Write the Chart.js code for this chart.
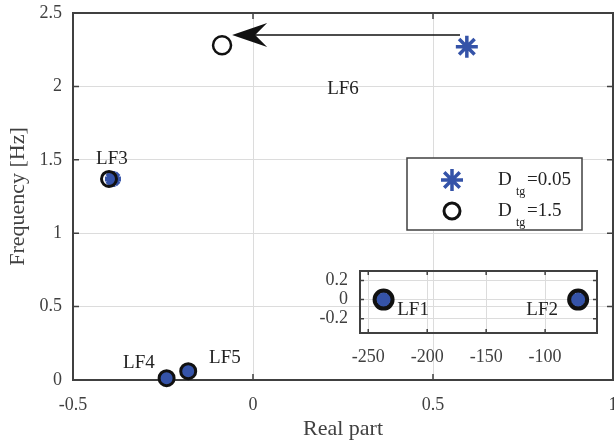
<!DOCTYPE html>
<html>
<head>
<meta charset="utf-8">
<script src="https://cdn.jsdelivr.net/npm/chart.js@4.4.1/dist/chart.umd.min.js"></script>
<style>
html, body { margin: 0; padding: 0; background: #fff; }
#wrap { position: relative; width: 614px; height: 446px; }
#wrap canvas { position: absolute; left: 0; top: 0; }
</style>
</head>
<body>
<div id="wrap">
  <canvas id="main" width="614" height="446"></canvas>
  <canvas id="inset" width="614" height="446"></canvas>
</div>
<script>
// main plot
const xTicks = [-0.5, 0, 0.5, 1];
const yTicks = [0, 0.5, 1, 1.5, 2, 2.5];
const starX = [0.594, -0.389, -0.24, -0.18];
const starY = [2.27, 1.37, 0.012, 0.06];
const circX = [-0.086, -0.40, -0.24, -0.18];
const circY = [2.28, 1.37, 0.012, 0.06];
const arrowX = [0.575, -0.058];
const arrowY = [2.35, 2.35];
const lfNames = ['LF3', 'LF4', 'LF5', 'LF6'];
const lfX = [-0.392, -0.317, -0.078, 0.25];
const lfY = [1.505, 0.116, 0.15, 1.98];

// inset (LF1, LF2)
const insetXTicks = [-250, -200, -150, -100];
const insetYTicks = [-0.2, 0, 0.2];
const insetStarX = [-237, -72];
const insetStarY = [0, 0];
const insetCircX = [-237, -72];
const insetCircY = [0, 0];
const insetNames = ['LF1', 'LF2'];
const insetLabX = [-212, -102.5];
const insetLabY = [-0.105, -0.105];

const legendText = ['=0.05', '=1.5'];

const BLUE = '#3553a8';
const AXIS = '#404040';
const GRID = '#dcdcdc';
const SERIF = "'Liberation Serif', 'Times New Roman', serif";

function pts(xs, ys) {
    return xs.map((x, i) => ({ x: x, y: ys[i] }));
}

function fixTicks(list) {
    return function (scale) {
        scale.ticks = list.map(v => ({ value: v }));
    };
}

function drawFrame(chart, tickLen) {
    const { ctx, chartArea: a, scales } = chart;
    ctx.save();
    ctx.strokeStyle = AXIS;
    ctx.lineWidth = 1.5;
    ctx.beginPath();
    scales.x.ticks.forEach(t => {
        const px = scales.x.getPixelForValue(t.value);
        ctx.moveTo(px, a.bottom); ctx.lineTo(px, a.bottom - tickLen);
        ctx.moveTo(px, a.top); ctx.lineTo(px, a.top + tickLen);
    });
    scales.y.ticks.forEach(t => {
        const py = scales.y.getPixelForValue(t.value);
        ctx.moveTo(a.left, py); ctx.lineTo(a.left + tickLen, py);
        ctx.moveTo(a.right, py); ctx.lineTo(a.right - tickLen, py);
    });
    ctx.stroke();
    ctx.lineWidth = 2;
    ctx.strokeRect(a.left, a.top, a.right - a.left, a.bottom - a.top);
    ctx.restore();
}

function drawLabels(chart, names, xs, ys) {
    const { ctx, scales } = chart;
    ctx.save();
    ctx.fillStyle = '#222';
    ctx.font = '19px ' + SERIF;
    ctx.textAlign = 'center';
    ctx.textBaseline = 'middle';
    names.forEach((n, i) => {
        ctx.fillText(n, scales.x.getPixelForValue(xs[i]), scales.y.getPixelForValue(ys[i]));
    });
    ctx.restore();
}

function starPath(ctx, x, y, r) {
    for (let k = 0; k < 4; k++) {
        const ang = k * Math.PI / 4;
        ctx.moveTo(x - Math.cos(ang) * r, y - Math.sin(ang) * r);
        ctx.lineTo(x + Math.cos(ang) * r, y + Math.sin(ang) * r);
    }
}

const mainPlugin = {
    id: 'mainDeco',
    beforeDatasetsDraw(chart) {
        drawFrame(chart, 6);
    },
    afterDatasetsDraw(chart) {
        const { ctx, scales } = chart;
        // arrow from star to circle
        const x0 = scales.x.getPixelForValue(arrowX[0]);
        const y0 = scales.y.getPixelForValue(arrowY[0]);
        const x1 = scales.x.getPixelForValue(arrowX[1]);
        const y1 = scales.y.getPixelForValue(arrowY[1]);
        ctx.save();
        ctx.strokeStyle = '#111';
        ctx.fillStyle = '#111';
        ctx.lineWidth = 1.5;
        ctx.beginPath();
        ctx.moveTo(x0, y0);
        ctx.lineTo(x1 + 22, y1);
        ctx.stroke();
        ctx.beginPath();
        ctx.moveTo(x1, y1);
        ctx.lineTo(x1 + 35, y1 - 12);
        ctx.lineTo(x1 + 23, y1);
        ctx.lineTo(x1 + 35, y1 + 12);
        ctx.closePath();
        ctx.fill();
        ctx.restore();

        drawLabels(chart, lfNames, lfX, lfY);

        // legend box
        const lx = 407, ly = 158, lw = 175, lh = 72;
        ctx.save();
        ctx.fillStyle = '#fff';
        ctx.fillRect(lx, ly, lw, lh);
        ctx.strokeStyle = AXIS;
        ctx.lineWidth = 1.5;
        ctx.strokeRect(lx, ly, lw, lh);
        ctx.strokeStyle = BLUE;
        ctx.lineWidth = 3.5;
        ctx.beginPath();
        starPath(ctx, 452, 180, 11);
        ctx.stroke();
        ctx.strokeStyle = '#111';
        ctx.lineWidth = 3;
        ctx.beginPath();
        ctx.arc(452, 211, 8, 0, Math.PI * 2);
        ctx.stroke();
        ctx.fillStyle = '#222';
        ctx.textBaseline = 'middle';
        legendText.forEach((t, i) => {
            const yy = 180 + i * 31;
            ctx.font = '19px ' + SERIF;
            ctx.fillText('D', 498, yy);
            ctx.font = '12px ' + SERIF;
            ctx.fillText('tg', 516, yy + 12);
            ctx.font = '19px ' + SERIF;
            ctx.fillText(t, 527, yy);
        });
        ctx.restore();
    }
};

const insetPlugin = {
    id: 'insetDeco',
    beforeDatasetsDraw(chart) {
        drawFrame(chart, 4);
    },
    afterDatasetsDraw(chart) {
        drawLabels(chart, insetNames, insetLabX, insetLabY);
    }
};

const tickFont = { family: SERIF, size: 18 };
const titleFont = { family: SERIF, size: 22 };
const plain = v => String(v);

new Chart(document.getElementById('main'), {
    type: 'scatter',
    data: {
        datasets: [
            {
                label: 'D_tg=1.5',
                data: pts(circX, circY),
                pointStyle: 'circle',
                pointRadius: c => c.dataIndex === 0 ? 9 : 7.5,
                pointBorderWidth: c => c.dataIndex === 0 ? 2.5 : 3,
                borderColor: '#111',
                backgroundColor: 'rgba(0,0,0,0)',
                clip: false,
                order: 0
            },
            {
                label: 'D_tg=0.05',
                data: pts(starX, starY),
                pointStyle: 'star',
                pointRadius: c => c.dataIndex === 0 ? 11 : (c.dataIndex === 1 ? 8 : 7),
                pointBorderWidth: c => c.dataIndex === 0 ? 3.5 : 5,
                borderColor: BLUE,
                backgroundColor: BLUE,
                clip: false,
                order: 1
            }
        ]
    },
    options: {
        responsive: false,
        animation: false,
        events: [],
        layout: { autoPadding: false, padding: { left: 0, top: 13, right: 1, bottom: 0 } },
        plugins: { legend: { display: false }, tooltip: { enabled: false } },
        scales: {
            x: {
                type: 'linear',
                min: -0.5,
                max: 1,
                afterBuildTicks: fixTicks(xTicks),
                afterFit(s) { s.height = 66; s.paddingLeft = 0; s.paddingRight = 0; },
                grid: { color: GRID, drawTicks: false },
                border: { display: false },
                ticks: { font: tickFont, color: AXIS, padding: 14, maxRotation: 0, callback: plain },
                title: { display: true, text: 'Real part', font: titleFont, color: AXIS, padding: { top: 0, bottom: 4 } }
            },
            y: {
                type: 'linear',
                min: 0,
                max: 2.5,
                afterBuildTicks: fixTicks(yTicks),
                afterFit(s) { s.width = 73; s.paddingTop = 0; s.paddingBottom = 0; },
                grid: { color: GRID, drawTicks: false },
                border: { display: false },
                ticks: { font: tickFont, color: AXIS, padding: 11, callback: plain },
                title: { display: true, text: 'Frequency [Hz]', font: titleFont, color: AXIS, padding: { top: 5, bottom: 0 } }
            }
        }
    },
    plugins: [mainPlugin]
});

new Chart(document.getElementById('inset'), {
    type: 'scatter',
    data: {
        datasets: [
            {
                data: pts(insetCircX, insetCircY),
                pointStyle: 'circle',
                pointRadius: 9,
                pointBorderWidth: 4,
                borderColor: '#111',
                backgroundColor: 'rgba(0,0,0,0)',
                clip: false,
                order: 0
            },
            {
                data: pts(insetStarX, insetStarY),
                pointStyle: 'star',
                pointRadius: 8,
                pointBorderWidth: 5,
                borderColor: BLUE,
                backgroundColor: BLUE,
                clip: false,
                order: 1
            }
        ]
    },
    options: {
        responsive: false,
        animation: false,
        events: [],
        layout: { autoPadding: false, padding: { left: 300, top: 271, right: 17, bottom: 83 } },
        plugins: { legend: { display: false }, tooltip: { enabled: false } },
        scales: {
            x: {
                type: 'linear',
                min: -257,
                max: -56,
                afterBuildTicks: fixTicks(insetXTicks),
                afterFit(s) { s.height = 30; s.paddingLeft = 0; s.paddingRight = 0; },
                grid: { color: GRID, drawTicks: false },
                border: { display: false },
                ticks: { font: tickFont, color: AXIS, padding: 13, maxRotation: 0, callback: plain }
            },
            y: {
                type: 'linear',
                min: -0.35,
                max: 0.3,
                afterBuildTicks: fixTicks(insetYTicks),
                afterFit(s) { s.width = 60; s.paddingTop = 0; s.paddingBottom = 0; },
                grid: { color: GRID, drawTicks: false },
                border: { display: false },
                ticks: { font: tickFont, color: AXIS, padding: 12, callback: plain }
            }
        }
    },
    plugins: [insetPlugin]
});
</script>
</body>
</html>
